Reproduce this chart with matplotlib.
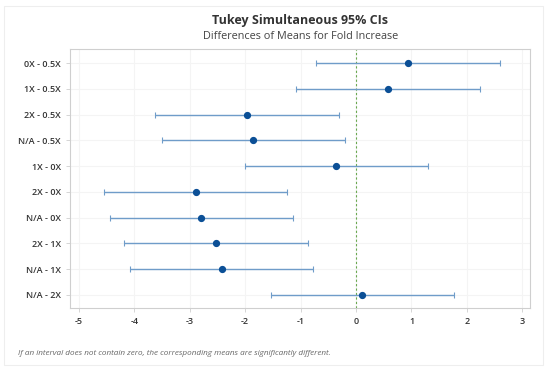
import numpy as np
import matplotlib.pyplot as plt
from matplotlib.patches import Rectangle

plt.rcParams['font.family'] = ['Open Sans', 'DejaVu Sans']

pairs = ['0X - 0.5X', '1X - 0.5X', '2X - 0.5X', 'N/A - 0.5X', '1X - 0X',
         '2X - 0X', 'N/A - 0X', '2X - 1X', 'N/A - 1X', 'N/A - 2X']
diff = [0.93, 0.57, -1.96, -1.85, -0.36, -2.89, -2.79, -2.53, -2.42, 0.11]
lower = [-0.72, -1.08, -3.62, -3.50, -2.00, -4.55, -4.44, -4.19, -4.08, -1.54]
upper = [2.60, 2.24, -0.31, -0.19, 1.29, -1.25, -1.14, -0.87, -0.77, 1.77]
xticks = [-5, -4, -3, -2, -1, 0, 1, 2, 3]

fig = plt.figure(figsize=(5.47, 3.69), dpi=100)
fig.patches.append(Rectangle((0.008, 0.01), 0.984, 0.975, transform=fig.transFigure,
                             fill=False, edgecolor='#eeeeee', linewidth=0.8))
ax = fig.add_axes([0.128, 0.165, 0.841, 0.702])

y = np.arange(len(pairs))
d = np.array(diff)
err = [d - np.array(lower), np.array(upper) - d]
ax.errorbar(d, y, xerr=err, fmt='o', color='#0b4f96', ecolor='#6f9cc9',
            elinewidth=1.0, capsize=2.5, capthick=0.8, markersize=4.2, zorder=3)
ax.axvline(0, color='#6aa84f', linestyle=(0, (2, 2)), linewidth=0.8, zorder=2)

ax.set_xlim(-5.16, 3.14)
ax.set_ylim(9.52, -0.55)
ax.set_yticks(y)
ax.set_yticklabels(pairs, fontweight='semibold')
ax.set_xticks(xticks)
ax.set_xticklabels([str(t) for t in xticks], fontweight='semibold')
ax.grid(True, color='#f4f4f4', linewidth=0.8)
ax.set_axisbelow(True)
for s in ax.spines.values():
    s.set_color('#cfcfcf')
    s.set_linewidth(0.8)
ax.tick_params(axis='both', labelsize=6.5, colors='#cfcfcf', labelcolor='#333333',
               length=3, width=0.6)

fig.text(0.549, 0.945, 'Tukey Simultaneous 95% CIs', ha='center', va='center',
         fontsize=9, fontweight='bold', color='#333333')
fig.text(0.549, 0.9, 'Differences of Means for Fold Increase', ha='center', va='center',
         fontsize=7.8, color='#444444')
fig.text(0.033, 0.043, 'If an interval does not contain zero, the corresponding means are significantly different.',
         ha='left', va='center', fontsize=5.9, style='italic', color='#666666')

fig.savefig('out.png', dpi=100, facecolor='white')
